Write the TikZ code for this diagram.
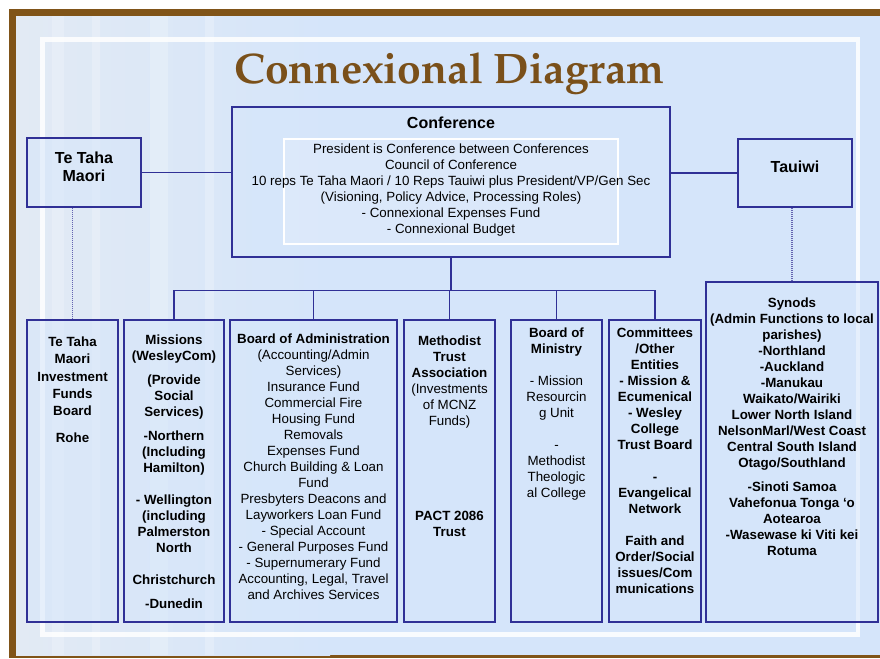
\documentclass[tikz,border=0pt]{standalone}
\usepackage{fontspec}
\setmainfont{Liberation Sans}
\usepackage{tikz}
\usetikzlibrary{calc,
                fit,
                positioning}
\definecolor{framebrown}{RGB}{128,84,24}
\definecolor{titlebrown}{RGB}{122,80,26}
\definecolor{bgblue}{RGB}{213,229,250}
\definecolor{bgleft}{RGB}{226,234,244}
\definecolor{boxblue}{RGB}{48,48,150}
\definecolor{boxfill}{RGB}{214,230,251}
\tikzstyle{unit} = [rectangle, draw=boxblue, fill=boxfill, fill opacity=0.55, text opacity=1, line width=0.8pt, inner sep=0pt, align=center, font=\fontsize{12}{13.5}\selectfont\bfseries]
\tikzstyle{unittext} = [align=center, inner sep=0pt, font=\fontsize{10}{12}\selectfont]
\tikzstyle{link} = [draw=boxblue, line width=0.8pt]
\tikzstyle{dotlink} = [draw=boxblue!75, line width=0.9pt, dash pattern=on 0.75pt off 0.75pt]

\begin{document}
\begin{tikzpicture}[x=0.75pt, y=-0.75pt]
\useasboundingbox (0,0) rectangle (880,658);
% background and frame
\fill[white] (0,0) rectangle (880,658);
\fill[framebrown] (9,9) rectangle (880,658);
\fill[bgblue] (16,16) rectangle (880,655);
\shade[left color=bgleft, right color=bgblue] (16,16) rectangle (330,655);
\foreach \xa/\xb in {52/64, 92/100, 150/168, 205/214}
    \fill[white, opacity=0.22] (\xa,16) rectangle (\xb,655);
\draw[white, opacity=0.85, line width=3.6pt] (42.5,39.5) rectangle (858,634.5);

\node[anchor=base, text=titlebrown, font=\fontencoding{OT1}\fontfamily{ppl}\fontseries{b}\fontsize{32}{36}\selectfont] (title) at (449.5,83) {Connexional Diagram};

% top row
\node (conf) [unit, fit={(232,107) (670,257)}] {};
\node (conftitle) [unittext, font=\fontsize{12}{13.5}\selectfont\bfseries] at (451,123) {Conference};
\node (confin) [rectangle, draw=white, fill=white, fill opacity=0.15, line width=0.8pt, inner sep=0pt, fit={(284,139) (618,244)}] {};
\node (conftext) [unittext, below=3.75pt of confin.north] {President is Conference between Conferences\\Council of Conference\\10 reps Te Taha Maori / 10 Reps Tauiwi plus President/VP/Gen Sec\\(Visioning, Policy Advice, Processing Roles)\\- Connexional Expenses Fund\\- Connexional Budget};
\node (ttm) [unit, fit={(27,138) (141,207)}] {Te Taha\\Maori};
\node (tau) [unit, fit={(738,139) (852,207)}] {Tauiwi};

% bottom row
\node (tif) [unit, fit={(27,320) (118,622)}] {};
\node (miss) [unit, fit={(124,320) (224,622)}] {};
\node (boa) [unit, fit={(230,320) (397,622)}] {};
\node (mta) [unit, fit={(404,320) (495,622)}] {};
\node (bom) [unit, fit={(511,320) (602,622)}] {};
\node (com) [unit, fit={(609,320) (701,622)}] {};
\node (syn) [unit, fit={(706,282) (878,622)}] {};

\node (tiftext) [unittext, font=\fontsize{10}{13}\selectfont\bfseries, below=12.75pt of tif.north] {Te Taha\\Maori\\Investment\\Funds\\Board\\[7pt]Rohe};
\node (misstext) [unittext, font=\fontsize{10}{12}\selectfont\bfseries, below=11.25pt of miss.north] {Missions\\(WesleyCom)\\[6pt](Provide\\Social\\Services)\\[6pt]-Northern\\(Including\\Hamilton)\\[12pt]- Wellington\\(including\\Palmerston\\North\\[12pt]Christchurch\\[6pt]-Dunedin};
\node (boatext) [unittext, below=10.5pt of boa.north] {{\bfseries Board of Administration}\\(Accounting/Admin\\Services)\\Insurance Fund\\Commercial Fire\\Housing Fund\\Removals\\Expenses Fund\\Church Building \& Loan\\Fund\\Presbyters Deacons and\\Layworkers Loan Fund\\- Special Account\\- General Purposes Fund\\- Supernumerary Fund\\Accounting, Legal, Travel\\and Archives Services};
\node (mtatext) [unittext, below=12pt of mta.north] {{\bfseries Methodist}\\{\bfseries Trust}\\{\bfseries Association}\\(Investments\\of MCNZ\\Funds)\\[59pt]{\bfseries PACT 2086}\\{\bfseries Trust}};
\node (bomtext) [unittext, below=6pt of bom.north] {{\bfseries Board of}\\{\bfseries Ministry}\\[12pt]- Mission\\Resourcin\\g Unit\\[12pt]-\\Methodist\\Theologic\\al College};
\node (comtext) [unittext, font=\fontsize{10}{12}\selectfont\bfseries, below=6pt of com.north] {Committees\\/Other\\Entities\\- Mission \&\\Ecumenical\\- Wesley\\College\\Trust Board\\[12pt]-\\Evangelical\\Network\\[12pt]Faith and\\Order/Social\\issues/Com\\munications};
\node (syntext) [unittext, font=\fontsize{10}{12}\selectfont\bfseries, below=12pt of syn.north] {Synods\\(Admin Functions to local\\parishes)\\-Northland\\-Auckland\\-Manukau\\Waikato/Wairiki\\Lower North Island\\NelsonMarl/West Coast\\Central South Island\\Otago/Southland\\[6pt]-Sinoti Samoa\\Vahefonua Tonga ‘o\\Aotearoa\\-Wasewase ki Viti kei\\Rotuma};

% connectors
\draw [link] (ttm.east) -- (ttm.east -| conf.west);
\draw [link] (tau.west) -- (tau.west -| conf.east);
\coordinate (bus) at ($(conf.south)+(0,33)$);
\draw [link] (conf.south) -- (bus);
\foreach \n in {miss,boa,mta,bom,com}
    \draw [link] (\n.north) |- (bus);
\draw [dotlink] (tif.north) -- (tif.north |- ttm.south);
\draw [dotlink] (syn.north) -- (syn.north |- tau.south);
\end{tikzpicture}
\end{document}
